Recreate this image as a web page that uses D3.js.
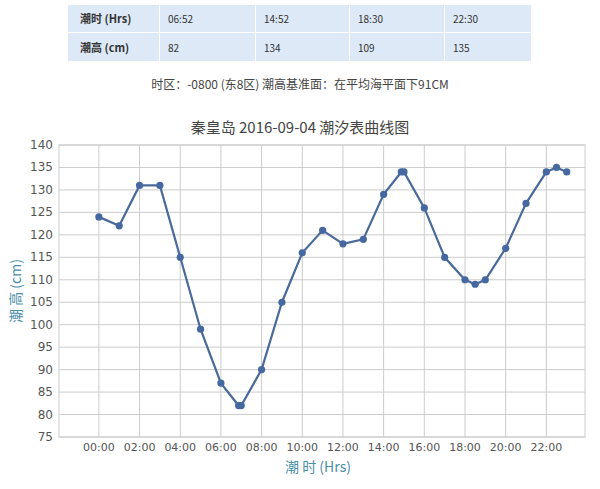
<!DOCTYPE html>
<html><head><meta charset="utf-8">
<script src="https://cdn.jsdelivr.net/npm/d3@7"></script>
<style>body{margin:0;background:#fff;font-family:"Noto Sans CJK SC",sans-serif}</style>
</head><body><svg id="c" width="600" height="489"></svg>
<script>
const tableHeaders = ["潮时 (Hrs)", "潮高 (cm)"];
const tideTimes = ["06:52", "14:52", "18:30", "22:30"];
const tideHeights = ["82", "134", "109", "135"];
// hours (decimal) and heights
const hours = [0,1,2,3,4,5,6,6.87,7,8,9,10,11,12,13,14,14.87,15,16,17,18,18.5,19,20,21,22,22.5,23];
const heights = [124,122,131,131,115,99,87,82,82,90,105,116,121,118,119,129,134,134,126,115,110,109,110,117,127,134,135,134];
const xTicks = [0,2,4,6,8,10,12,14,16,18,20,22];
const yTicks = [75,80,85,90,95,100,105,110,115,120,125,130,135,140];

const svg = d3.select("#c");

// table
const colX = [68,160,256,350,445,532];
const rowY = [5,33,62];
const rows = [[tableHeaders[0], ...tideTimes],[tableHeaders[1], ...tideHeights]];
rows.forEach((r,i) => r.forEach((t,j) => {
    svg.append("rect").attr("x",colX[j]).attr("y",rowY[i])
        .attr("width",colX[j+1]-colX[j]-1).attr("height",rowY[i+1]-rowY[i]-1)
        .attr("fill","#dde9f7");
    svg.append("text").attr("x",colX[j]+(j==0?12:8)).attr("y",(rowY[i]+rowY[i+1])/2+4)
        .attr("font-size",j==0?11:10).attr("font-weight",j==0?"bold":"normal")
        .attr("fill","#333").text(t);
}));

svg.append("text").attr("x",300).attr("y",89).attr("text-anchor","middle")
    .attr("font-size",12).attr("fill","#444").text("时区：-0800 (东8区) 潮高基准面：在平均海平面下91CM");
svg.append("text").attr("x",300).attr("y",133).attr("text-anchor","middle")
    .attr("font-size",15).attr("fill","#444").text("秦皇岛 2016-09-04 潮汐表曲线图");

const margin = {left:59, right:15, top:145, bottom:52};
const x = d3.scaleLinear().domain([-1.96,23.9]).range([margin.left, 600-margin.right]);
const y = d3.scaleLinear().domain([75,140]).range([489-margin.bottom, margin.top]);

const g = svg.append("g");
// grid
g.selectAll(".hg").data(yTicks).join("line")
    .attr("x1",x.range()[0]).attr("x2",x.range()[1])
    .attr("y1",d=>y(d)).attr("y2",d=>y(d)).attr("stroke","#ccc");
g.selectAll(".vg").data(xTicks).join("line")
    .attr("y1",y.range()[0]).attr("y2",y.range()[1])
    .attr("x1",d=>x(d)).attr("x2",d=>x(d)).attr("stroke","#ccc");
g.append("rect").attr("x",x.range()[0]).attr("y",y.range()[1])
    .attr("width",x.range()[1]-x.range()[0]).attr("height",y.range()[0]-y.range()[1])
    .attr("fill","none").attr("stroke","#ccc");

// axes
g.selectAll(".yl").data(yTicks).join("text")
    .attr("x",x.range()[0]-6).attr("y",d=>y(d)+4).attr("text-anchor","end")
    .attr("font-size",12).attr("fill","#555").attr("font-family","DejaVu Sans").text(d=>d);
g.selectAll(".xl").data(xTicks).join("text")
    .attr("x",d=>x(d)).attr("y",y.range()[0]+14).attr("text-anchor","middle")
    .attr("font-size",11).attr("fill","#555").attr("font-family","DejaVu Sans")
    .text(d=>String(d).padStart(2,"0")+":00");

svg.append("text").attr("x",318).attr("y",472).attr("text-anchor","middle")
    .attr("font-size",14).attr("fill","#4a8fa8").text("潮 时 (Hrs)");
svg.append("text").attr("transform",`translate(21,${(y.range()[0]+y.range()[1])/2}) rotate(-90)`)
    .attr("text-anchor","middle").attr("font-size",14).attr("fill","#4a8fa8").text("潮 高 (cm)");

const pts = hours.map((h,i)=>[h,heights[i]]);
g.append("path").datum(pts)
    .attr("d", d3.line().x(d=>x(d[0])).y(d=>y(d[1])))
    .attr("fill","none").attr("stroke","#4a6a9a").attr("stroke-width",2.2);
g.selectAll(".pt").data(pts).join("circle")
    .attr("cx",d=>x(d[0])).attr("cy",d=>y(d[1])).attr("r",3.6).attr("fill","#4568a0");
</script></body></html>
